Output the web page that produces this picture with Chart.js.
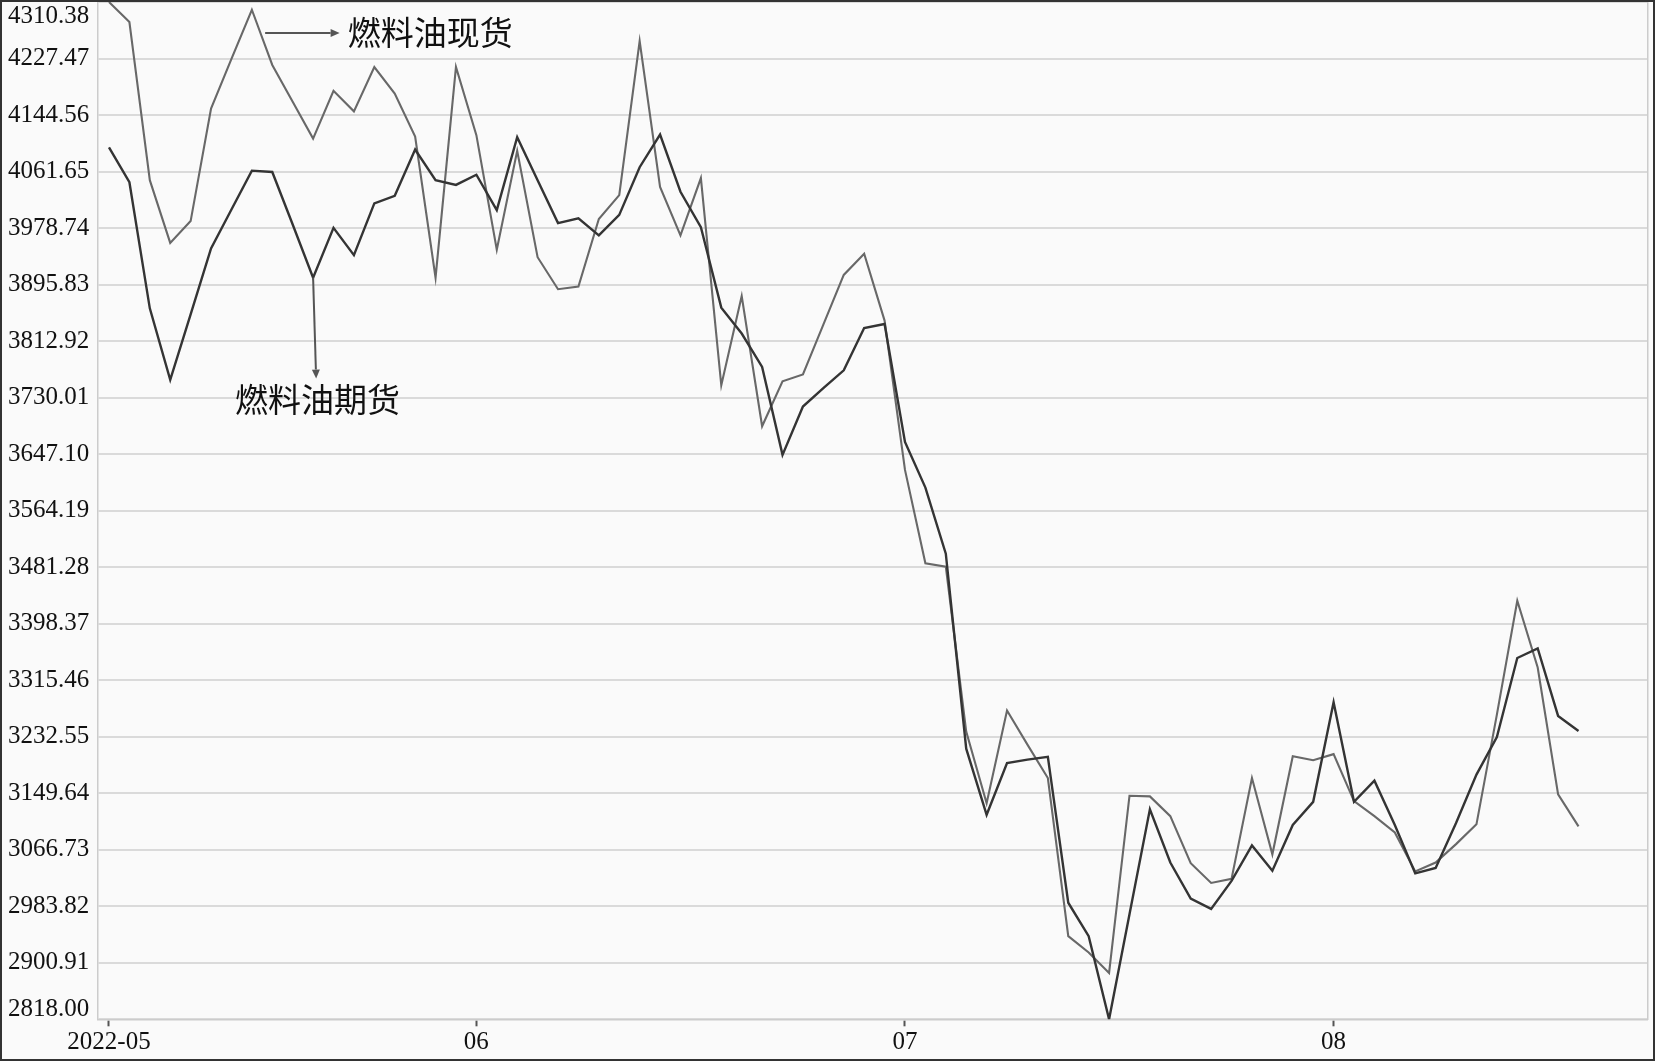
<!DOCTYPE html>
<html>
<head>
<meta charset="utf-8">
<script src="https://cdn.jsdelivr.net/npm/chart.js@4.4.1/dist/chart.umd.min.js"></script>
<style>
  html, body { margin: 0; padding: 0; background: #fafafa; }
  #wrap { width: 1655px; height: 1061px; }
</style>
</head>
<body>
<div id="wrap"><canvas id="chart" width="1655" height="1061"></canvas></div>
<script>
// trading days, May - Aug 2022
const dates = [
  "2022-05-06", "2022-05-09", "2022-05-10", "2022-05-11", "2022-05-12", "2022-05-13",
  "2022-05-16", "2022-05-17", "2022-05-18", "2022-05-19", "2022-05-20",
  "2022-05-23", "2022-05-24", "2022-05-25", "2022-05-26", "2022-05-27",
  "2022-05-30", "2022-05-31",
  "2022-06-01", "2022-06-02", "2022-06-06", "2022-06-07", "2022-06-08", "2022-06-09", "2022-06-10",
  "2022-06-13", "2022-06-14", "2022-06-15", "2022-06-16", "2022-06-17",
  "2022-06-20", "2022-06-21", "2022-06-22", "2022-06-23", "2022-06-24",
  "2022-06-27", "2022-06-28", "2022-06-29", "2022-06-30",
  "2022-07-01", "2022-07-04", "2022-07-05", "2022-07-06", "2022-07-07", "2022-07-08",
  "2022-07-11", "2022-07-12", "2022-07-13", "2022-07-14", "2022-07-15",
  "2022-07-18", "2022-07-19", "2022-07-20", "2022-07-21", "2022-07-22",
  "2022-07-25", "2022-07-26", "2022-07-27", "2022-07-28", "2022-07-29",
  "2022-08-01", "2022-08-02", "2022-08-03", "2022-08-04", "2022-08-05",
  "2022-08-08", "2022-08-09", "2022-08-10", "2022-08-11", "2022-08-12",
  "2022-08-15", "2022-08-16", "2022-08-17"
];

// 燃料油现货 (spot)
const spot = [
  4310.38, 4281, 4049, 3957, 3989, 4154, 4227, 4299, 4218, 4164,
  4110, 4180, 4150, 4215, 4176, 4113, 3906, 4215, 4115, 3947,
  4092, 3936, 3889, 3893, 3992, 4027, 4253, 4039, 3968, 4052,
  3748, 3879, 3688, 3754, 3764, 3837, 3910, 3941, 3843, 3624,
  3487, 3482, 3240, 3135, 3271, 3221, 3172, 2940, 2916, 2886,
  3146, 3145, 3116, 3047, 3018, 3024, 3172, 3060, 3204, 3198,
  3207, 3138, 3116, 3092, 3035, 3048, 3075, 3104, 3265, 3432,
  3334, 3148, 3101
];

// 燃料油期货 (futures)
const futures = [
  4097, 4046, 3861, 3756, 3852, 3949, 4006, 4063, 4061, 3984,
  3906, 3979, 3939, 4015, 4026, 4094, 4049, 4042, 4057, 4005,
  4112, 4049, 3986, 3993, 3968, 3998, 4068, 4116, 4032, 3980,
  3862, 3824, 3775, 3646, 3717, 3744, 3770, 3832, 3838, 3665,
  3598, 3501, 3215, 3118, 3194, 3199, 3203, 2989, 2940, 2818,
  2972, 3126, 3048, 2995, 2980, 3021, 3073, 3036, 3103, 3137,
  3283, 3137, 3168, 3103, 3032, 3040, 3106, 3177, 3232, 3348,
  3362, 3263, 3241
];

const monthLabels = ["2022-05", "06", "07", "08"];
const yTicks = [
  2818.00, 2900.91, 2983.82, 3066.73, 3149.64, 3232.55, 3315.46, 3398.37, 3481.28, 3564.19,
  3647.10, 3730.01, 3812.92, 3895.83, 3978.74, 4061.65, 4144.56, 4227.47, 4310.38
];

// index of first trading day of each month
const monthStarts = [];
dates.forEach((d, i) => {
  if (i === 0 || d.slice(0, 7) !== dates[i - 1].slice(0, 7)) monthStarts.push(i);
});

const serif = "'Liberation Serif', 'Times New Roman', serif";

// annotation spots, in data units
const notes = {
  spot: { from: [7.65, 4265], to: [11.3, 4265], text: [11.7, 4265], label: "燃料油现货" },
  fut: { from: [10, futures[10]], to: [10.15, 3758], text: [10.22, 3727], label: "燃料油期货" }
};

function arrow(ctx, x1, y1, x2, y2) {
  const ang = Math.atan2(y2 - y1, x2 - x1);
  const len = 9, half = 4;
  ctx.beginPath();
  ctx.moveTo(x1, y1);
  ctx.lineTo(x2 - Math.cos(ang) * len, y2 - Math.sin(ang) * len);
  ctx.stroke();
  ctx.beginPath();
  ctx.moveTo(x2, y2);
  ctx.lineTo(x2 - Math.cos(ang) * len - Math.sin(ang) * half, y2 - Math.sin(ang) * len + Math.cos(ang) * half);
  ctx.lineTo(x2 - Math.cos(ang) * len + Math.sin(ang) * half, y2 - Math.sin(ang) * len - Math.cos(ang) * half);
  ctx.closePath();
  ctx.fill();
}

const decor = {
  id: "decor",
  beforeDraw(chart) {
    const ctx = chart.ctx;
    ctx.save();
    ctx.fillStyle = "#fafafa";
    ctx.fillRect(0, 0, chart.width, chart.height);
    ctx.restore();
  },
  afterDraw(chart) {
    const ctx = chart.ctx;
    const xs = chart.scales.x, ys = chart.scales.y;
    ctx.save();
    ctx.strokeStyle = "#555";
    ctx.fillStyle = "#555";
    ctx.lineWidth = 2;
    for (const k of ["spot", "fut"]) {
      const n = notes[k];
      arrow(ctx,
        xs.getPixelForValue(n.from[0]), ys.getPixelForValue(n.from[1]),
        xs.getPixelForValue(n.to[0]), ys.getPixelForValue(n.to[1]));
    }
    ctx.fillStyle = "#111";
    ctx.font = "33px 'Noto Sans CJK SC'";
    ctx.textBaseline = "middle";
    ctx.textAlign = "left";
    ctx.fillText(notes.spot.label, xs.getPixelForValue(notes.spot.text[0]), ys.getPixelForValue(notes.spot.text[1]));
    ctx.textAlign = "center";
    ctx.fillText(notes.fut.label, xs.getPixelForValue(notes.fut.text[0]), ys.getPixelForValue(notes.fut.text[1]));

    // outer frame
    ctx.strokeStyle = "#333";
    ctx.lineWidth = 2;
    ctx.strokeRect(1, 1, chart.width - 2, chart.height - 2);
    ctx.restore();
  }
};

const ctx = document.getElementById("chart").getContext("2d");

const mychart = new Chart(ctx, {
  type: "line",
  data: {
    datasets: [
      {
        label: "燃料油期货",
        data: futures.map((v, i) => ({ x: i, y: v })),
        borderColor: "#343434",
        borderWidth: 2.4,
        pointRadius: 0,
        tension: 0,
        fill: false
      },
      {
        label: "燃料油现货",
        data: spot.map((v, i) => ({ x: i, y: v })),
        borderColor: "#686868",
        borderWidth: 2.1,
        pointRadius: 0,
        tension: 0,
        fill: false
      }
    ]
  },
  options: {
    responsive: false,
    animation: false,
    devicePixelRatio: 1,
    layout: { padding: { top: 2, right: 7.5, bottom: 0, left: 0 } },
    plugins: {
      legend: { display: false },
      tooltip: { enabled: false }
    },
    scales: {
      x: {
        type: "linear",
        min: -0.573,
        max: 75.38,
        afterBuildTicks: (axis) => { axis.ticks = monthStarts.map(v => ({ value: v })); },
        afterFit: (axis) => { axis.height = 41.7; axis.paddingLeft = 0; axis.paddingRight = 0; },
        ticks: {
          autoSkip: false,
          maxRotation: 0,
          padding: 1,
          color: "#111",
          font: { family: serif, size: 25 },
          callback: (v, i) => monthLabels[i]
        },
        grid: {
          drawOnChartArea: false,
          drawTicks: true,
          tickLength: 7,
          tickColor: "#555",
          tickWidth: 2
        },
        border: { display: true, color: "#cccccc", width: 1.5 }
      },
      y: {
        min: 2818,
        max: 4310.38,
        afterBuildTicks: (axis) => { axis.ticks = yTicks.map(v => ({ value: v })); },
        afterFit: (axis) => { axis.width = 97.3; axis.paddingTop = 0; axis.paddingBottom = 0; },
        ticks: {
          autoSkip: false,
          padding: 8,
          color: "#111",
          font: (c) => {
            let lh = 1.2;
            if (c.index === 0) lh = "20px";
            if (c.index === yTicks.length - 1) lh = "28px";
            return { family: serif, size: 25, lineHeight: lh };
          },
          callback: (v, i) => {
            const s = yTicks[i].toFixed(2);
            if (i === 0) return [s, ""];
            if (i === yTicks.length - 1) return ["", s];
            return s;
          }
        },
        grid: { color: "#dadada", lineWidth: 2, drawTicks: false },
        border: { display: true, color: "#cccccc", width: 1.5 }
      },
      y2: {
        position: "right",
        ticks: { display: false },
        grid: { drawOnChartArea: false, drawTicks: false },
        border: { display: true, color: "#cccccc", width: 1.5 },
        afterFit: (axis) => { axis.width = 0; }
      }
    }
  },
  plugins: [decor]
});
</script>
</body>
</html>
